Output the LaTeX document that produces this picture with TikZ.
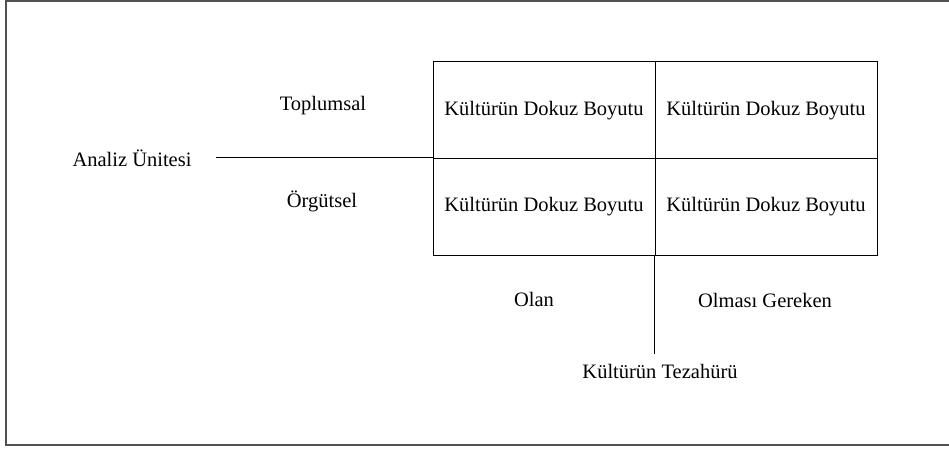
\documentclass[tikz,border=0pt]{standalone}
\usepackage{fontspec}
\setmainfont{Liberation Serif}
\tikzset{
  txt/.style={font=\fontsize{20.5}{24}\selectfont,inner sep=2pt},
  cell/.style={txt,draw,line width=1pt,minimum width=222pt,minimum height=96.5pt},
  frame/.style={draw=black!68,line width=1.6pt},
}

\begin{document}
\begin{tikzpicture}[x=1pt,y=-1pt,line width=1pt]
\useasboundingbox (0,0) rectangle (949,449);

\draw [frame] (951,1) -- (5.8,1) -- (5.8,445) -- (951,445);

% grid of the four cells
\node [cell] (c11) at (544,110.25) {Kültürün Dokuz Boyutu};
\node [cell] (c12) at (766,110.25) {Kültürün Dokuz Boyutu};
\node [cell] (c21) at (544,206.75) {Kültürün Dokuz Boyutu};
\node [cell] (c22) at (766,206.75) {Kültürün Dokuz Boyutu};

\node [txt] (analiz) at (132,158) {Analiz Ünitesi};
\node [txt] (toplum) at (323,106) {Toplumsal};
\node [txt] (orgut) at (322,201) {Örgütsel};

\node [txt] (olan) at (534,299) {Olan};
\node [txt] (olmasi) at (765,300) {Olması Gereken};
\node [txt] (tezahur) at (660,371) {Kültürün Tezahürü};

\draw ([xshift=22pt]analiz.east) -- (c21.north west);
\draw (c22.south west) -- ([yshift=7pt]c22.south west |- tezahur.north);
\end{tikzpicture}
\end{document}
